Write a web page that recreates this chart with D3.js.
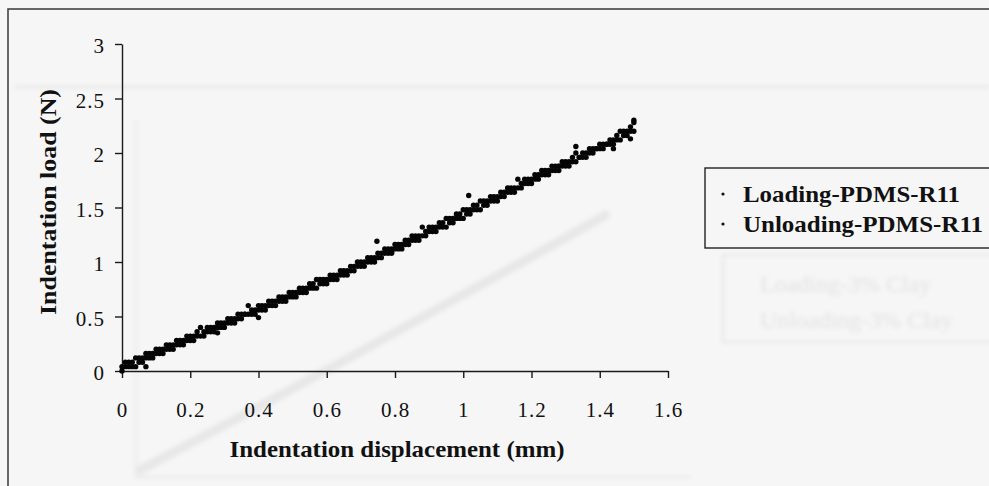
<!DOCTYPE html>
<html>
<head>
<meta charset="utf-8">
<script src="https://cdn.jsdelivr.net/npm/d3@7"></script>
<style>
  html, body { margin: 0; padding: 0; background: #f6f6f6; }
  svg { display: block; }
  text { font-family: "Liberation Serif", "Times New Roman", serif; fill: #111; }
</style>
</head>
<body>
<svg id="chart" width="989" height="486"></svg>
<script>
// Indentation test, PDMS-R11: load (N) vs. displacement (mm), sampled every 0.01 mm
const displacement = [
  0.00,0.01,0.02,0.03,0.04,0.05,0.06,0.07,0.08,0.09,
  0.10,0.11,0.12,0.13,0.14,0.15,0.16,0.17,0.18,0.19,
  0.20,0.21,0.22,0.23,0.24,0.25,0.26,0.27,0.28,0.29,
  0.30,0.31,0.32,0.33,0.34,0.35,0.36,0.37,0.38,0.39,
  0.40,0.41,0.42,0.43,0.44,0.45,0.46,0.47,0.48,0.49,
  0.50,0.51,0.52,0.53,0.54,0.55,0.56,0.57,0.58,0.59,
  0.60,0.61,0.62,0.63,0.64,0.65,0.66,0.67,0.68,0.69,
  0.70,0.71,0.72,0.73,0.74,0.75,0.76,0.77,0.78,0.79,
  0.80,0.81,0.82,0.83,0.84,0.85,0.86,0.87,0.88,0.89,
  0.90,0.91,0.92,0.93,0.94,0.95,0.96,0.97,0.98,0.99,
  1.00,1.01,1.02,1.03,1.04,1.05,1.06,1.07,1.08,1.09,
  1.10,1.11,1.12,1.13,1.14,1.15,1.16,1.17,1.18,1.19,
  1.20,1.21,1.22,1.23,1.24,1.25,1.26,1.27,1.28,1.29,
  1.30,1.31,1.32,1.33,1.34,1.35,1.36,1.37,1.38,1.39,
  1.40,1.41,1.42,1.43,1.44,1.45,1.46,1.47,1.48,1.49,1.50];

const loadingLoad = [
  0.04,0.08,0.08,0.08,0.12,0.12,0.12,0.16,0.16,0.16,
  0.20,0.20,0.20,0.24,0.24,0.24,0.28,0.28,0.28,0.32,
  0.32,0.32,0.36,0.40,0.36,0.40,0.40,0.40,0.44,0.44,
  0.44,0.48,0.48,0.48,0.52,0.52,0.52,0.60,0.56,0.56,
  0.60,0.60,0.60,0.64,0.64,0.64,0.68,0.68,0.68,0.72,
  0.72,0.72,0.76,0.76,0.76,0.80,0.80,0.84,0.84,0.84,
  0.84,0.88,0.88,0.88,0.92,0.92,0.92,0.96,0.96,1.00,
  1.00,1.00,1.04,1.04,1.04,1.08,1.08,1.12,1.12,1.12,
  1.16,1.16,1.16,1.20,1.20,1.24,1.24,1.24,1.32,1.28,
  1.32,1.32,1.32,1.36,1.36,1.40,1.40,1.40,1.44,1.44,
  1.48,1.48,1.48,1.52,1.52,1.56,1.56,1.56,1.60,1.60,
  1.60,1.64,1.64,1.68,1.68,1.68,1.76,1.72,1.76,1.76,
  1.76,1.80,1.80,1.84,1.84,1.84,1.88,1.88,1.88,1.92,
  1.92,1.92,1.96,2.00,1.96,2.00,2.00,2.04,2.04,2.04,
  2.08,2.08,2.08,2.12,2.12,2.16,2.20,2.20,2.20,2.24,2.28];

const unloadingLoad = [
  0.00,0.04,0.04,0.04,0.04,0.08,0.08,0.12,0.12,0.12,
  0.16,0.16,0.16,0.20,0.20,0.20,0.24,0.24,0.24,0.28,
  0.28,0.28,0.32,0.32,0.32,0.36,0.36,0.36,0.40,0.40,
  0.40,0.44,0.44,0.44,0.48,0.48,0.52,0.52,0.52,0.52,
  0.56,0.56,0.56,0.60,0.60,0.60,0.64,0.64,0.64,0.68,
  0.68,0.68,0.72,0.72,0.72,0.76,0.76,0.76,0.80,0.80,
  0.80,0.84,0.84,0.84,0.88,0.88,0.88,0.92,0.92,0.96,
  0.96,0.96,1.00,1.00,1.00,1.04,1.04,1.08,1.08,1.08,
  1.12,1.12,1.12,1.16,1.16,1.20,1.20,1.20,1.24,1.24,
  1.28,1.28,1.28,1.32,1.32,1.32,1.36,1.36,1.40,1.40,
  1.40,1.44,1.44,1.48,1.48,1.48,1.52,1.52,1.56,1.56,
  1.56,1.60,1.60,1.64,1.64,1.64,1.68,1.68,1.72,1.72,
  1.72,1.76,1.76,1.80,1.80,1.80,1.84,1.84,1.88,1.88,
  1.88,1.88,1.92,1.92,1.96,1.96,1.96,2.00,2.00,2.04,
  2.04,2.04,2.08,2.08,2.08,2.12,2.12,2.16,2.16,2.20,2.20];

// stray readings off the main band
const loadingStrayDisp = [0.747,1.016,1.33,1.50];
const loadingStrayLoad = [1.19,1.61,2.06,2.30];
const unloadingStrayDisp = [0.07,0.28,0.40,0.79,1.28,1.44,1.49];
const unloadingStrayLoad = [0.04,0.35,0.49,1.09,1.84,2.04,2.13];

const xTicks = [0,0.2,0.4,0.6,0.8,1,1.2,1.4,1.6];
const xTickLabels = ["0","0.2","0.4","0.6","0.8","1","1.2","1.4","1.6"];
const yTicks = [0,0.5,1,1.5,2,2.5,3];
const yTickLabels = ["0","0.5","1","1.5","2","2.5","3"];
const seriesNames = ["Loading-PDMS-R11","Unloading-PDMS-R11"];

// faint show-through from the reverse side of the sheet
const ghostDisp = [0.00,0.30,0.60,0.90,1.20,1.33];
const ghostLoad = [0.05,0.52,1.00,1.49,1.98,2.20];
const ghostNames = ["Loading-3% Clay","Unloading-3% Clay"];

const svg = d3.select("#chart");

// page frame
svg.append("rect").attr("x", 8).attr("y", 9).attr("width", 1000).attr("height", 500)
  .attr("fill", "#f6f6f6").attr("stroke", "#444").attr("stroke-width", 1.6);

// show-through layer
const blur = svg.append("defs").append("filter").attr("id", "soft");
blur.append("feGaussianBlur").attr("stdDeviation", 2);
const ghost = svg.append("g").attr("filter", "url(#soft)");
ghost.append("line").attr("x1", 15).attr("x2", 989).attr("y1", 87).attr("y2", 87)
  .attr("stroke", "#e0e0e0").attr("stroke-width", 2);
ghost.append("line").attr("x1", 136).attr("x2", 136).attr("y1", 120).attr("y2", 478)
  .attr("stroke", "#e8e8e8").attr("stroke-width", 2);
ghost.append("line").attr("x1", 136).attr("x2", 690).attr("y1", 477).attr("y2", 477)
  .attr("stroke", "#e6e6e6").attr("stroke-width", 2);
const gx = d3.scaleLinear().domain([0, 1.6]).range([140, 700]);
const gy = d3.scaleLinear().domain([0, 3]).range([476, 120]);
ghost.append("path")
  .datum(d3.zip(ghostDisp, ghostLoad))
  .attr("d", d3.line().x(d => gx(d[0])).y(d => gy(d[1])))
  .attr("fill", "none").attr("stroke", "#e7e7e7").attr("stroke-width", 9).attr("stroke-linecap", "round");
ghost.append("rect").attr("x", 723).attr("y", 255).attr("width", 300).attr("height", 87)
  .attr("fill", "none").attr("stroke", "#e4e4e4").attr("stroke-width", 2);
ghostNames.forEach((n, i) => {
  ghost.append("text").attr("x", 760).attr("y", 292 + i * 36).text(n)
    .style("font-size", "24px").style("fill", "#e2e2e2");
});

// scales
const x = d3.scaleLinear().domain([0, 1.6]).range([122, 668]);
const y = d3.scaleLinear().domain([0, 3]).range([371, 44]);

// axes
const xAxis = d3.axisBottom(x).tickValues(xTicks).tickFormat((d, i) => xTickLabels[i])
  .tickSizeInner(7).tickSizeOuter(0).tickPadding(24);
const yAxis = d3.axisLeft(y).tickValues(yTicks).tickFormat((d, i) => yTickLabels[i])
  .tickSizeInner(7).tickSizeOuter(0).tickPadding(10);

const gX = svg.append("g").attr("transform", `translate(0,${y(0)})`).call(xAxis);
const gY = svg.append("g").attr("transform", `translate(${x(0)},0)`).call(yAxis);
[gX, gY].forEach(g => {
  g.select(".domain").attr("stroke", "#1a1a1a").attr("stroke-width", 1.4);
  g.selectAll(".tick line").attr("stroke", "#1a1a1a").attr("stroke-width", 1.4);
  g.selectAll(".tick text").attr("fill", "#111")
    .style("font-family", "'Liberation Serif', serif").style("font-size", "21px")
    .style("letter-spacing", "1px");
});
gY.selectAll(".tick text").attr("dy", "0.42em");

// axis titles
svg.append("text").attr("x", 397).attr("y", 457).attr("text-anchor", "middle")
  .attr("textLength", 335).attr("lengthAdjust", "spacingAndGlyphs")
  .style("font-size", "24px").style("font-weight", "bold")
  .text("Indentation displacement (mm)");
svg.append("text").attr("transform", "translate(56,202) rotate(-90)").attr("text-anchor", "middle")
  .attr("textLength", 226).attr("lengthAdjust", "spacingAndGlyphs")
  .style("font-size", "24px").style("font-weight", "bold")
  .text("Indentation load (N)");

// data points
const series = [
  d3.zip(displacement, loadingLoad).concat(d3.zip(loadingStrayDisp, loadingStrayLoad)),
  d3.zip(displacement, unloadingLoad).concat(d3.zip(unloadingStrayDisp, unloadingStrayLoad))
];
const pts = svg.append("g");
series.forEach(data => {
  pts.selectAll(null).data(data).enter().append("circle")
    .attr("cx", d => x(d[0])).attr("cy", d => y(d[1])).attr("r", 2.7)
    .attr("fill", "#050505");
});

// legend
const lg = svg.append("g");
lg.append("rect").attr("x", 705).attr("y", 168).attr("width", 300).attr("height", 80)
  .attr("fill", "#f6f6f6").attr("stroke", "#222").attr("stroke-width", 1.4);
const legendWidths = [217, 240];
seriesNames.forEach((n, i) => {
  lg.append("circle").attr("cx", 723).attr("cy", 194 + i * 30).attr("r", 1.6).attr("fill", "#111");
  lg.append("text").attr("x", 743).attr("y", 202 + i * 30).text(n)
    .attr("textLength", legendWidths[i]).attr("lengthAdjust", "spacingAndGlyphs")
    .style("font-size", "24px").style("font-weight", "bold");
});
</script>
</body>
</html>
